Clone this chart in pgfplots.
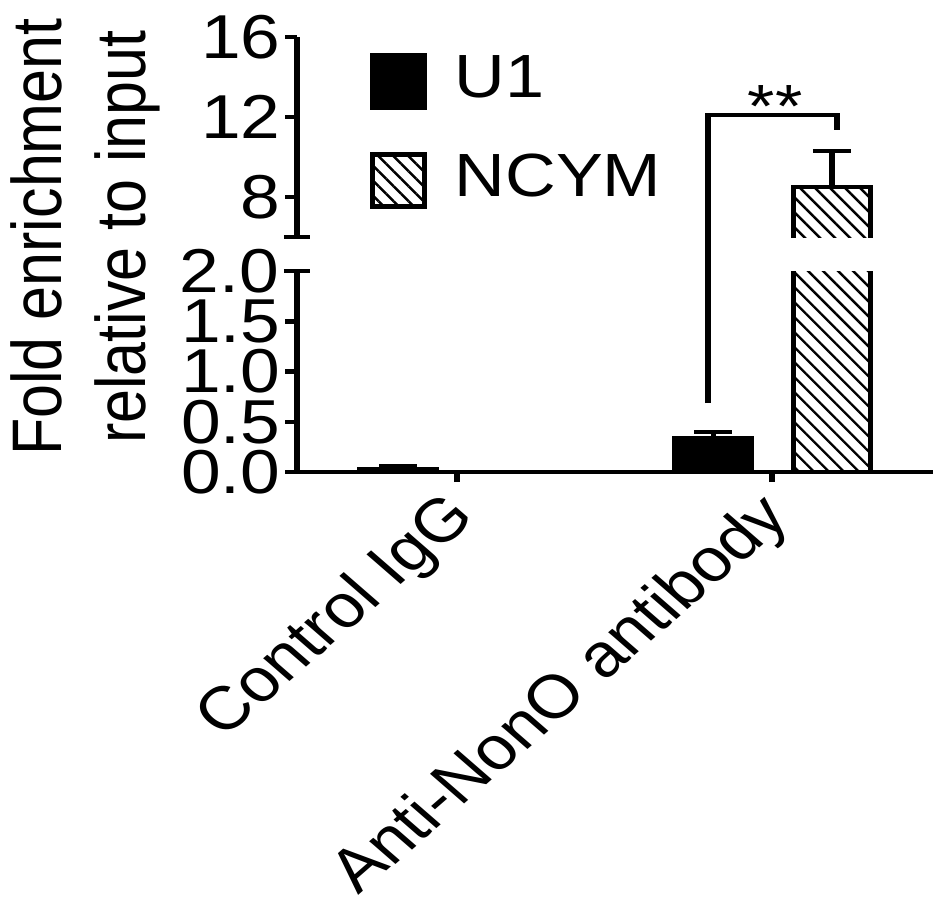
\documentclass[border=0pt]{standalone}
\usepackage{graphicx}
\usepackage{fontspec}
\setmainfont{Liberation Sans}
\usepackage{pgfplots}
\usepackage{pgfplotstable}
\pgfplotsset{compat=1.18}
\usetikzlibrary{patterns.meta}

% mean and SEM
\pgfplotstableread{
x y e
0 0.03 0.03
1 0.34 0.06
}\uone
\pgfplotstableread{
x y e
0 0.00 0.00
1 8.50 1.80
}\ncym

% the reference is stretched sideways: draw narrower, then scale x by 1.15
\pgfplotsset{
  brk/.style={
    scale only axis, width=276.5pt,
    xmin=-0.508, xmax=1.511,
    anchor=south west,
    ybar, bar width=0.245,
    axis line style={line width=2.3pt, black, -},
    tick style={line width=2.3pt, black},
    major tick length=5pt, tick align=outside,
    /pgf/number format/assume math mode=true,
    yticklabel style={inner sep=2pt, font=\fontsize{31}{36}\selectfont},
  },
  errs/.style={
    /pgfplots/error bars/y dir=plus,
    /pgfplots/error bars/y explicit,
    /pgfplots/error bars/error bar style={line width=2.3pt, black},
    /pgfplots/error bars/error mark options={rotate=90, mark size=8.3pt, line width=2.3pt, black},
  },
  hatch/.style={pattern={Lines[angle=-45, distance=5.3pt, line width=1.2pt]}},
  uonestyle/.style={fill=black, draw=black, line width=2.3pt, bar shift=-0.187},
  ncymstyle/.style={draw=black, line width=2.3pt, bar shift=0.19, hatch},
  sqlegend/.style={legend image code/.code={
    \draw[##1, line width=2.3pt] (0pt,-15.5pt) rectangle (22.6pt,10.5pt);}},
}

\begin{document}
\scalebox{1.15}[1]{%
\begin{tikzpicture}[font=\fontsize{30.5}{36}\selectfont]
\useasboundingbox (-129.1pt,-222.5pt) rectangle (281.7pt,236pt);

% lower panel 0 - 2
\begin{axis}[brk, at={(0,0)}, height=100.5pt,
  ymin=0, ymax=2,
  axis x line*=bottom, axis y line*=left,
  xtick pos=left, ytick pos=left,
  xtick={0,1}, xticklabels={Control IgG, Anti-NonO antibody},
  xticklabel style={xshift=-7pt, yshift=2pt, rotate=45, anchor=north east},
  ytick={0,0.5,1,1.5},
  yticklabel style={/pgf/number format/.cd, fixed, fixed zerofill, precision=1},
  extra y ticks={2}, extra y tick labels={2.0},
  extra y tick style={tick align=center, major tick length=11.3pt},
]
\addplot[uonestyle, errs] table[x=x, y=y, y error=e] {\uone};
\addplot[ncymstyle, errs] table[x=x, y=y, y error=e] {\ncym};
\end{axis}

% upper panel 6 - 16 (only the NCYM bar reaches it)
\begin{axis}[brk, at={(0,117.5pt)}, height=100pt,
  ymin=6, ymax=16,
  axis x line=none, axis y line*=left,
  ytick pos=left,
  ytick={8,12,16},
  extra y ticks={6}, extra y tick labels={},
  extra y tick style={tick align=center, major tick length=11.3pt},
  legend style={draw=none, fill=none, at={(0.103,0.94)}, anchor=north west,
    row sep=21pt, legend cell align=left,
    nodes={inner sep=0pt, text depth=0pt}},
]
\addlegendimage{uonestyle, sqlegend}
\addlegendentry{\hspace{12pt}U1}
\addlegendimage{ncymstyle, sqlegend}
\addlegendentry{\hspace{12pt}NCYM}
\addplot[draw=none, hatch, bar shift=0.19, errs, forget plot,
  skip coords between index={0}{1}]
  table[x=x, y=y, y error=e] {\ncym};
% outline of the broken NCYM bar: open at the break
\addplot[sharp plot, black, line width=2.3pt, line join=miter, forget plot]
  coordinates {(1.0675,5.5) (1.0675,8.5) (1.3125,8.5) (1.3125,5.5)};
\end{axis}

% annotations, in the upper panel's coordinates
\begin{axis}[scale only axis, width=276.5pt, height=100pt, at={(0,117.5pt)},
  anchor=south west, xmin=-0.508, xmax=1.511, ymin=6, ymax=16,
  hide axis, clip=false]
\addplot[black, line width=2.3pt, line join=miter] coordinates {
  (0.797,-2.3) (0.797,12.1) (1.206,12.1) (1.206,11.35)};
\node[anchor=base] at (axis cs:1.01,11.5) {**};
\node[rotate=90, align=center, font=\fontsize{30.5}{36.5}\selectfont]
  at (axis cs:-1.181,6) {Fold enrichment\\relative to input};
\end{axis}
\end{tikzpicture}}
\end{document}
